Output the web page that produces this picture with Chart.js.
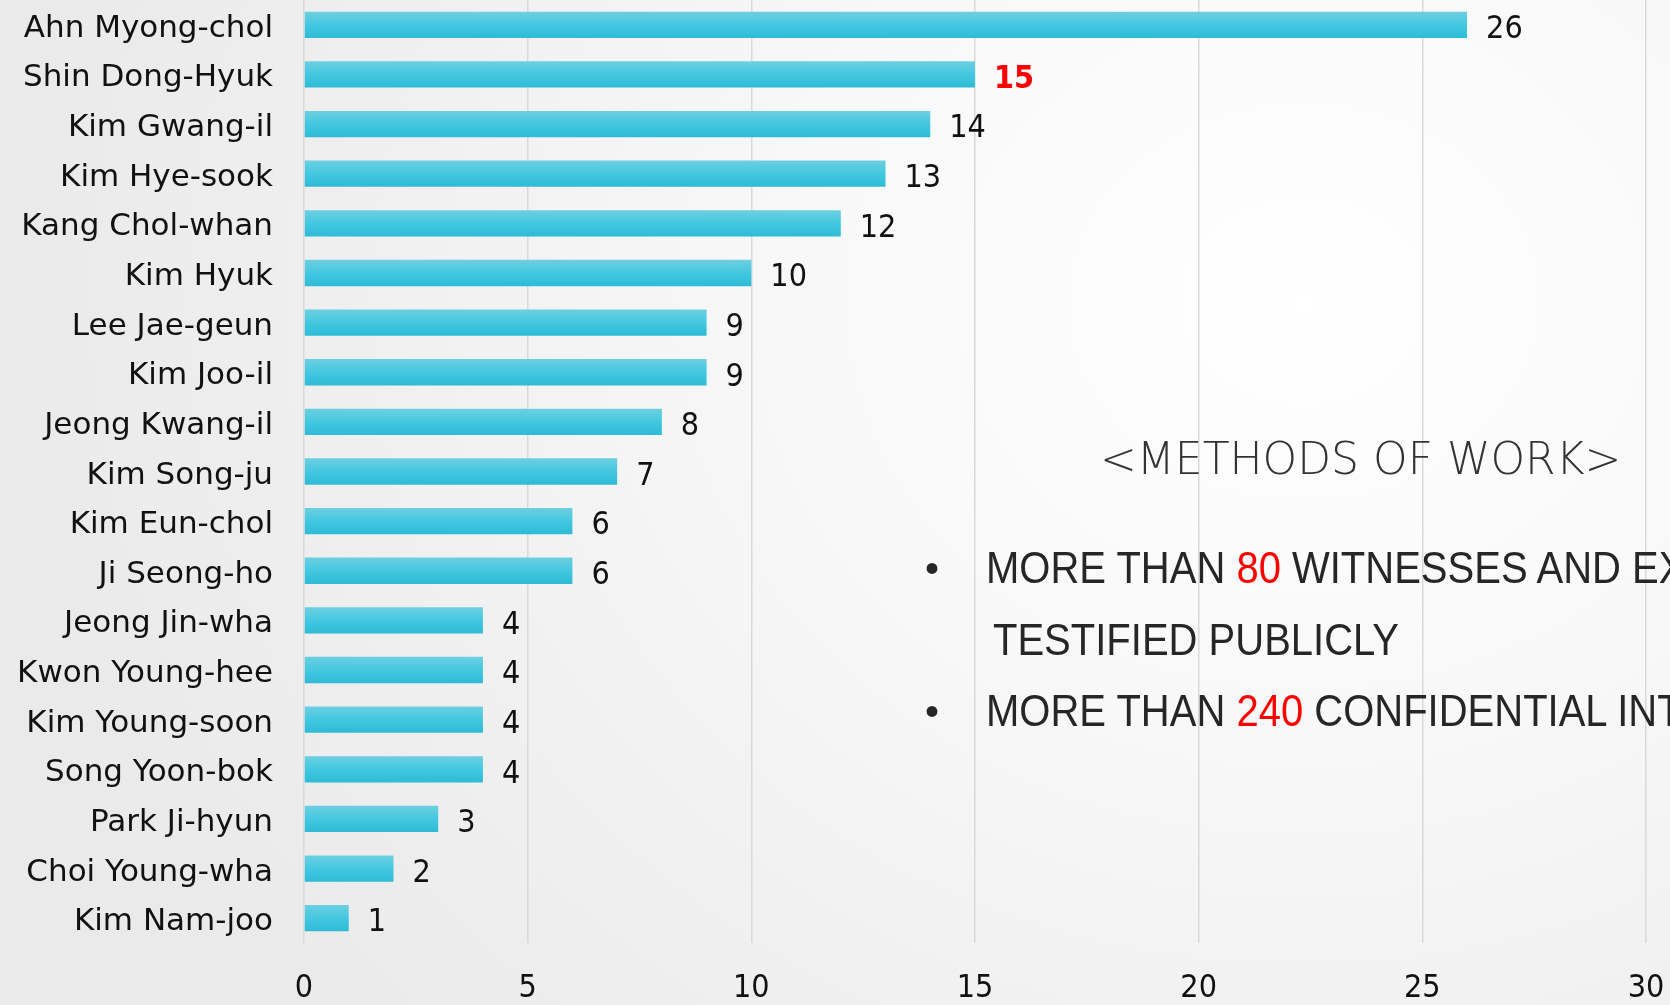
<!DOCTYPE html>
<html>
<head>
<meta charset="utf-8">
<script src="https://cdn.jsdelivr.net/npm/chart.js@4.4.1/dist/chart.umd.min.js"></script>
<style>
  html, body { margin: 0; padding: 0; }
  body {
    width: 1670px; height: 1005px; overflow: hidden; position: relative;
    background: radial-gradient(ellipse 1300px 1100px at 78% 30%, #ffffff 0%, #f8f8f8 40%, #efefef 75%, #eaeaea 100%);
  }
  #wrap { position: absolute; left: 0; top: 0; width: 1670px; height: 1005px; }
  .note { position: absolute; white-space: nowrap; line-height: 1; }
  .heading { font-family: "DejaVu Sans", sans-serif; font-weight: 200; font-size: 44px; color: #333333; left: 1100px; top: 437px; }
  .bullet, .line { font-family: "Liberation Sans", Arial, sans-serif; font-size: 40px; color: #262626; }
  .line { transform: scaleY(1.1); transform-origin: left center; }
  .red { color: #ff0000; }
</style>
</head>
<body>
<div id="wrap"><canvas id="myChart"></canvas></div>
<div class="note heading">&lt;METHODS OF WORK&gt;</div>
<div class="note bullet" style="left:925px; top:548px;">•</div>
<div class="note line" style="left:986px; top:548px;">MORE THAN <span class="red">80</span> WITNESSES AND EXPERTS</div>
<div class="note line" style="left:993px; top:620px;">TESTIFIED PUBLICLY</div>
<div class="note bullet" style="left:925px; top:691px;">•</div>
<div class="note line" style="left:986px; top:691px;">MORE THAN <span class="red">240</span> CONFIDENTIAL INTERVIEWS</div>

<script>
  // witnesses, top to bottom
  const names = [
    'Ahn Myong-chol', 'Shin Dong-Hyuk', 'Kim Gwang-il', 'Kim Hye-sook', 'Kang Chol-whan',
    'Kim Hyuk', 'Lee Jae-geun', 'Kim Joo-il', 'Jeong Kwang-il', 'Kim Song-ju',
    'Kim Eun-chol', 'Ji Seong-ho', 'Jeong Jin-wha', 'Kwon Young-hee', 'Kim Young-soon',
    'Song Yoon-bok', 'Park Ji-hyun', 'Choi Young-wha', 'Kim Nam-joo'
  ];
  const counts = [26, 15, 14, 13, 12, 10, 9, 9, 8, 7, 6, 6, 4, 4, 4, 4, 3, 2, 1];
  const xTicks = [0, 5, 10, 15, 20, 25, 30];
  const highlightName = 'Shin Dong-Hyuk';

  const barHalf = 13;
  const numFont = '"Liberation Sans Narrow", "DejaVu Sans Condensed", sans-serif';

  const barGradient = function (context) {
    const chart = context.chart;
    const yScale = chart.scales.y;
    if (!chart.chartArea || !yScale || context.dataIndex === undefined) return '#3fc6de';
    const yc = yScale.getPixelForValue(context.dataIndex);
    const g = chart.ctx.createLinearGradient(0, yc - barHalf, 0, yc + barHalf);
    g.addColorStop(0, '#6dcfe1');
    g.addColorStop(0.5, '#43c8e0');
    g.addColorStop(1, '#2ebbd6');
    return g;
  };

  const valueLabels = {
    id: 'valueLabels',
    afterDatasetsDraw(chart) {
      const ctx = chart.ctx;
      const meta = chart.getDatasetMeta(0);
      meta.data.forEach((bar, i) => {
        const hot = names[i] === highlightName;
        ctx.save();
        ctx.font = (hot ? 'bold ' : '') + '32px ' + numFont;
        ctx.fillStyle = hot ? '#ff0000' : '#111111';
        ctx.textAlign = 'left';
        ctx.textBaseline = 'middle';
        ctx.fillText(String(counts[i]), bar.x + 19, bar.y + 5);
        ctx.restore();
      });
    }
  };

  const config = {
    type: 'bar',
    data: {
      labels: names,
      datasets: [{
        data: counts,
        backgroundColor: barGradient,
        borderWidth: 0,
        categoryPercentage: 1,
        barPercentage: 0.53
      }]
    },
    options: {
      indexAxis: 'y',
      responsive: true,
      maintainAspectRatio: false,
      animation: false,
      layout: { padding: { left: 0, top: 0, right: 24, bottom: 0 } },
      plugins: {
        legend: { display: false },
        tooltip: { enabled: false }
      },
      scales: {
        x: {
          min: xTicks[0],
          max: xTicks[xTicks.length - 1],
          afterBuildTicks: (axis) => { axis.ticks = xTicks.map(v => ({ value: v })); },
          afterFit: (axis) => {
            axis.height = 62;
            axis.paddingLeft = 0;
            axis.paddingRight = 0;
          },
          grid: { color: '#d9d9d9', lineWidth: 1.5, drawTicks: false },
          border: { display: false },
          ticks: {
            padding: 26,
            color: '#111111',
            font: { family: numFont, size: 32 }
          }
        },
        y: {
          afterFit: (axis) => {
            axis.width = 304;
            axis.paddingTop = 0;
            axis.paddingBottom = 0;
          },
          grid: { display: false, drawTicks: false },
          border: { display: false },
          ticks: {
            padding: 31,
            labelOffset: 4,
            color: '#111111',
            font: { family: '"DejaVu Sans", sans-serif', size: 31 }
          }
        }
      }
    },
    plugins: [valueLabels]
  };

  new Chart(document.getElementById('myChart'), config);
</script>
</body>
</html>
